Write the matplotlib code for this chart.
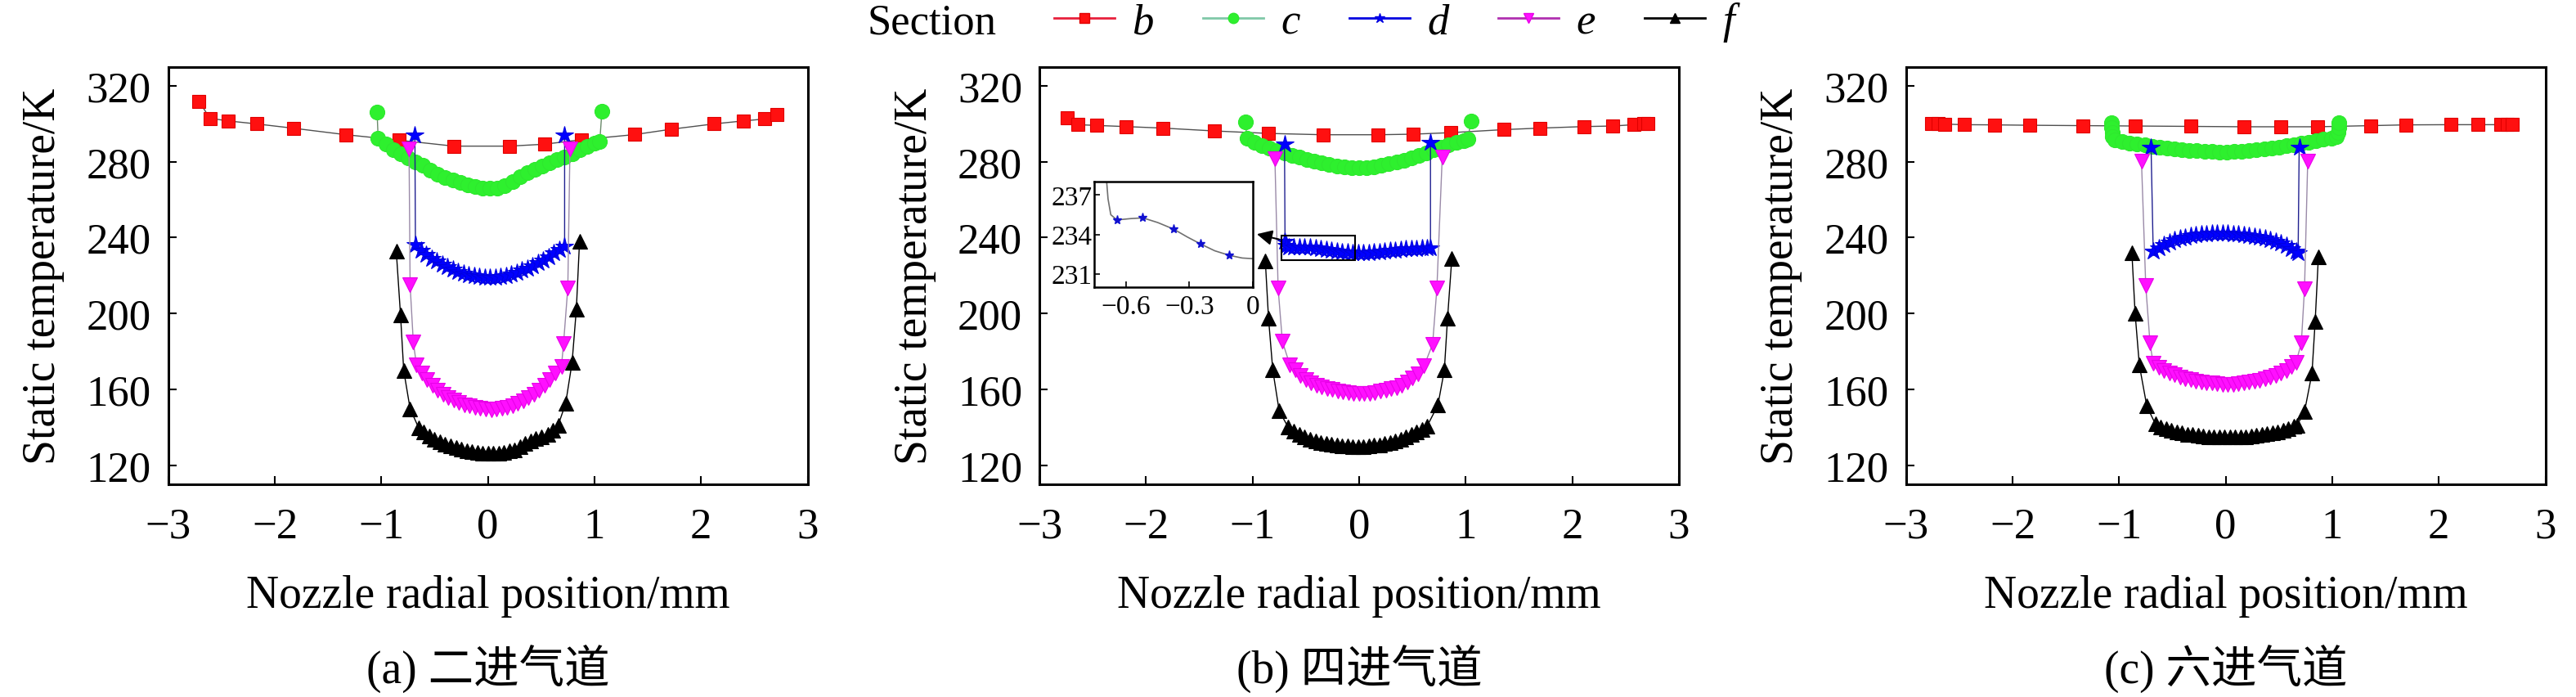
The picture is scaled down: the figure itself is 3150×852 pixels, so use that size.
import matplotlib
matplotlib.use("Agg")
import matplotlib.pyplot as plt
from matplotlib.lines import Line2D
from matplotlib.patches import Rectangle

plt.rcParams['font.family'] = ['Liberation Serif', 'DejaVu Serif']

# ---------------- panel (a) ----------------
b_x_a = [-2.71, -2.61, -2.44, -2.17, -1.82, -1.33, -0.83, -0.32, 0.20, 0.53, 0.88, 1.38, 1.72, 2.12, 2.40, 2.60, 2.71]
b_y_a = [311.8, 302.9, 301.5, 299.9, 297.6, 294.2, 291.3, 288.2, 288.2, 289.2, 291.6, 294.3, 297.1, 299.9, 301.5, 302.5, 305.0]

c_x_a = [-1.04, -1.03, -0.96, -0.89, -0.82, -0.75, -0.68, -0.61, -0.54, -0.47, -0.40, -0.33, -0.26, -0.19, -0.12, -0.05,
         0.02, 0.09, 0.16, 0.23, 0.30, 0.37, 0.44, 0.51, 0.58, 0.65, 0.72, 0.79, 0.86, 0.93, 1.00, 1.05, 1.07]
c_y_a = [306.1, 292.5, 289.5, 286.5, 284.0, 282.0, 280.0, 278.0, 275.5, 273.5, 271.8, 270.3, 269.0, 267.8, 266.8, 266.2,
         266.0, 266.2, 267.5, 269.5, 272.0, 274.3, 276.0, 277.8, 279.5, 281.0, 282.4, 284.3, 286.2, 288.0, 289.8, 290.8, 306.5]

d_x_a = [-0.685, -0.68, -0.63, -0.58, -0.53, -0.48, -0.43, -0.38, -0.33, -0.28, -0.23, -0.18, -0.13, -0.08, -0.03,
         0.02, 0.07, 0.12, 0.17, 0.22, 0.27, 0.32, 0.37, 0.42, 0.47, 0.52, 0.57, 0.62, 0.67, 0.72, 0.72]
d_y_a = [294.2, 236.5, 233.5, 231.0, 229.0, 227.5, 226.0, 224.5, 223.3, 222.2, 221.2, 220.4, 219.8, 219.3, 219.0,
         218.9, 219.0, 219.4, 220.0, 220.8, 221.7, 222.8, 224.0, 225.3, 226.8, 228.3, 230.0, 231.8, 233.7, 235.5, 294.2]

e_x_a = [-0.74, -0.73, -0.70, -0.67, -0.62, -0.57, -0.52, -0.47, -0.42, -0.37, -0.32, -0.27, -0.22, -0.17, -0.12, -0.07, -0.02,
         0.03, 0.08, 0.13, 0.18, 0.23, 0.28, 0.33, 0.38, 0.43, 0.48, 0.53, 0.58, 0.63, 0.69, 0.71, 0.75, 0.77]
e_y_a = [286.7, 215.0, 185.0, 172.8, 168.5, 165.0, 162.0, 159.5, 157.5, 155.8, 154.3, 153.0, 152.0, 151.2, 150.5, 150.0, 149.6,
         149.4, 149.6, 150.0, 150.6, 151.5, 152.6, 154.0, 155.6, 157.5, 159.7, 162.2, 165.2, 168.5, 172.0, 184.2, 213.6, 286.7]

f_x_a = [-0.86, -0.82, -0.79, -0.73, -0.65, -0.60, -0.55, -0.50, -0.45, -0.40, -0.35, -0.30, -0.25, -0.20, -0.15, -0.10, -0.05,
         0.00, 0.05, 0.10, 0.15, 0.20, 0.25, 0.30, 0.35, 0.40, 0.45, 0.50, 0.56, 0.61, 0.66, 0.73, 0.79, 0.83, 0.86]
f_y_a = [233.0, 199.3, 170.0, 149.8, 139.8, 137.5, 135.5, 133.8, 132.4, 131.2, 130.2, 129.3, 128.5, 127.8, 127.2, 126.8, 126.5,
         126.3, 126.3, 126.5, 126.9, 127.5, 128.3, 130.0, 131.5, 132.8, 134.0, 135.2, 136.2, 138.5, 141.2, 152.7, 174.2, 202.2, 238.0]

# ---------------- panel (b) ----------------
b_x_b = [-2.74, -2.64, -2.46, -2.19, -1.84, -1.36, -0.85, -0.34, 0.18, 0.51, 0.86, 1.36, 1.70, 2.11, 2.38, 2.58, 2.67, 2.71]
b_y_b = [303.1, 299.5, 299.1, 298.5, 297.7, 296.2, 294.9, 294.2, 294.2, 294.5, 295.3, 296.9, 297.7, 298.5, 298.8, 299.5, 300.0, 300.3]

c_x_b = [-1.07, -1.05, -0.98, -0.91, -0.84, -0.77, -0.70, -0.63, -0.56, -0.49, -0.42, -0.35, -0.28, -0.21, -0.14, -0.07,
         0.00, 0.07, 0.14, 0.21, 0.28, 0.35, 0.42, 0.49, 0.56, 0.63, 0.70, 0.77, 0.84, 0.91, 0.98, 1.02, 1.05]
c_y_b = [301.0, 292.3, 290.3, 288.5, 287.0, 285.9, 284.6, 283.4, 282.3, 281.2, 280.2, 279.3, 278.5, 277.8, 277.3, 276.9,
         276.7, 276.8, 277.3, 278.0, 278.9, 279.8, 280.8, 282.0, 283.3, 284.8, 286.3, 287.7, 289.0, 290.2, 291.2, 291.8, 301.4]

d_x_b = [-0.70, -0.695, -0.68, -0.66, -0.61, -0.56, -0.51, -0.46, -0.41, -0.36, -0.31, -0.26, -0.21, -0.16, -0.11, -0.06, -0.01,
         0.04, 0.09, 0.14, 0.19, 0.24, 0.29, 0.34, 0.39, 0.44, 0.49, 0.54, 0.59, 0.64, 0.67, 0.67]
d_y_b = [289.5, 238.0, 235.8, 235.1, 235.15, 235.2, 235.2, 234.9, 234.5, 234.1, 233.7, 233.3, 232.9, 232.6, 232.4, 232.2, 232.1,
         232.1, 232.2, 232.4, 232.6, 232.9, 233.2, 233.5, 233.8, 234.0, 234.2, 234.3, 234.4, 234.5, 234.6, 290.2]

e_x_b = [-0.79, -0.76, -0.72, -0.65, -0.60, -0.55, -0.50, -0.45, -0.40, -0.35, -0.30, -0.25, -0.20, -0.15, -0.10, -0.05,
         0.00, 0.05, 0.10, 0.15, 0.20, 0.25, 0.30, 0.35, 0.40, 0.45, 0.50, 0.55, 0.61, 0.69, 0.73, 0.78]
e_y_b = [281.6, 213.3, 185.3, 173.0, 170.5, 167.5, 165.2, 163.5, 162.2, 161.2, 160.5, 159.8, 159.2, 158.7, 158.3, 158.0,
         157.8, 157.8, 158.0, 158.4, 159.0, 159.7, 160.3, 161.0, 162.3, 164.0, 166.0, 168.2, 172.4, 183.9, 213.3, 282.3]

f_x_b = [-0.88, -0.85, -0.81, -0.75, -0.665, -0.61, -0.56, -0.51, -0.46, -0.41, -0.36, -0.31, -0.26, -0.21, -0.16, -0.11, -0.06, -0.01,
         0.04, 0.09, 0.14, 0.19, 0.24, 0.29, 0.34, 0.39, 0.44, 0.49, 0.54, 0.59, 0.64, 0.74, 0.80, 0.83, 0.87]
f_y_b = [227.7, 197.5, 170.2, 148.7, 140.0, 138.0, 136.3, 134.9, 133.8, 132.9, 132.2, 131.6, 131.1, 130.7, 130.4, 130.2, 130.0, 130.0,
         130.0, 130.2, 130.5, 130.9, 131.4, 132.0, 132.8, 133.8, 134.9, 136.2, 137.5, 139.0, 140.8, 151.8, 170.2, 197.5, 229.0]

# inset of panel (b): close-up of section d
ins_x = [-0.70, -0.686, -0.673, -0.644, -0.58, -0.521, -0.45, -0.375, -0.31, -0.246, -0.18, -0.11, -0.05, 0.0]
ins_y = [239.5, 236.7, 235.5, 235.1, 235.2, 235.26, 234.9, 234.4, 233.8, 233.26, 232.75, 232.4, 232.2, 232.15]
ins_stars = [3, 5, 7, 9, 11]

# ---------------- panel (c) ----------------
b_x_c = [-2.76, -2.70, -2.64, -2.45, -2.17, -1.84, -1.34, -0.85, -0.33, 0.17, 0.52, 0.86, 1.36, 1.69, 2.11, 2.37, 2.58, 2.64, 2.69]
b_y_c = [300.2, 300.0, 299.8, 299.5, 299.4, 299.2, 299.0, 298.8, 298.6, 298.4, 298.4, 298.4, 299.0, 299.4, 299.5, 299.5, 299.5, 299.5, 299.5]

c_x_c = [-1.07, -1.07, -1.065, -1.06, -1.04, -0.97, -0.90, -0.83, -0.76, -0.69, -0.62, -0.55, -0.48, -0.41, -0.34, -0.27, -0.20,
         -0.13, -0.06, 0.01, 0.08, 0.15, 0.22, 0.29, 0.36, 0.43, 0.50, 0.57, 0.64, 0.71, 0.78, 0.85, 0.92, 0.99, 1.04,
         1.055, 1.06, 1.06]
c_y_c = [300.5, 298.0, 295.5, 293.0, 291.5, 290.6, 289.8, 289.2, 288.7, 288.2, 287.7, 287.2, 286.8, 286.4, 286.0, 285.7, 285.5,
         285.3, 285.2, 285.2, 285.3, 285.5, 285.8, 286.2, 286.6, 287.1, 287.7, 288.3, 289.0, 289.7, 290.4, 291.1, 291.8, 292.5, 293.3,
         295.5, 298.0, 300.5]

d_x_c = [-0.70, -0.68, -0.63, -0.58, -0.53, -0.48, -0.43, -0.38, -0.33, -0.28, -0.23, -0.18, -0.13, -0.08, -0.03,
         0.02, 0.07, 0.12, 0.17, 0.22, 0.27, 0.32, 0.37, 0.42, 0.47, 0.52, 0.57, 0.62, 0.66, 0.68, 0.69]
d_y_c = [287.5, 232.7, 234.5, 236.2, 237.6, 238.7, 239.6, 240.3, 240.9, 241.4, 241.8, 242.1, 242.3, 242.4, 242.4,
         242.3, 242.1, 241.9, 241.6, 241.2, 240.8, 240.3, 239.8, 239.1, 238.2, 237.2, 235.9, 234.3, 232.7, 232.0, 287.5]

e_x_c = [-0.79, -0.75, -0.71, -0.68, -0.63, -0.58, -0.53, -0.48, -0.43, -0.38, -0.33, -0.28, -0.23, -0.18, -0.13, -0.08, -0.03,
         0.02, 0.07, 0.12, 0.17, 0.22, 0.27, 0.32, 0.37, 0.42, 0.47, 0.52, 0.57, 0.62, 0.66, 0.71, 0.74, 0.77]
e_y_c = [280.3, 214.7, 184.4, 173.6, 171.5, 170.0, 168.7, 167.6, 166.6, 165.8, 165.1, 164.5, 164.0, 163.6, 163.3, 163.0, 162.8,
         162.7, 162.8, 163.0, 163.3, 163.7, 164.2, 164.8, 165.5, 166.4, 167.4, 168.6, 170.0, 172.0, 174.2, 184.4, 213.2, 280.3]

f_x_c = [-0.88, -0.85, -0.81, -0.74, -0.66, -0.61, -0.56, -0.51, -0.46, -0.41, -0.36, -0.31, -0.26, -0.21, -0.16, -0.11, -0.06, -0.01,
         0.04, 0.09, 0.14, 0.19, 0.24, 0.29, 0.34, 0.39, 0.44, 0.49, 0.54, 0.59, 0.64, 0.67, 0.74, 0.81, 0.84, 0.87]
f_y_c = [232.0, 200.2, 172.8, 151.2, 141.8, 140.2, 139.2, 138.3, 137.6, 137.0, 136.5, 136.1, 135.7, 135.4, 135.1, 134.9, 134.8, 134.8,
         134.8, 134.9, 135.0, 135.2, 135.5, 135.8, 136.2, 136.7, 137.2, 137.8, 138.5, 139.3, 140.4, 141.1, 148.3, 168.5, 195.9, 229.8]

panel_captions = ['(a) 二进气道', '(b) 四进气道', '(c) 六进气道']
section_labels = ['b', 'c', 'd', 'e', 'f']
y_ticks = [120, 160, 200, 240, 280, 320]
x_ticks = [-3, -2, -1, 0, 1, 2, 3]

panels = [
    [(b_x_a, b_y_a), (c_x_a, c_y_a), (d_x_a, d_y_a), (e_x_a, e_y_a), (f_x_a, f_y_a)],
    [(b_x_b, b_y_b), (c_x_b, c_y_b), (d_x_b, d_y_b), (e_x_b, e_y_b), (f_x_b, f_y_b)],
    [(b_x_c, b_y_c), (c_x_c, c_y_c), (d_x_c, d_y_c), (e_x_c, e_y_c), (f_x_c, f_y_c)],
]

# marker styling per section
styles = [
    dict(marker='s', mfc='#ff1010', mec='#e00000', ms=12, lc='#505050', legc='#e8203c'),
    dict(marker='o', mfc='#2ef02e', mec='#2ee82e', ms=13, lc='#6a8a6a', legc='#80c8a8'),
    dict(marker='*', mfc='#0000ff', mec='#0000e0', ms=16, lc='#202090', legc='#0000e0'),
    dict(marker='v', mfc='#ff10ff', mec='#e800e8', ms=13, lc='#9a8aa8', legc='#b030b0'),
    dict(marker='^', mfc='black', mec='black', ms=13, lc='black', legc='black'),
]

FS = 38
FL = 40
fig = plt.figure(figsize=(31.5, 8.53), dpi=100)
lefts = [0.0653, 0.4035, 0.7399]

for k in range(3):
    ax = fig.add_axes([lefts[k], 0.3048, 0.2482, 0.5983])
    for (xs, ys), st in zip(panels[k], styles):
        ax.plot(xs, ys, color=st['lc'], lw=1.0, marker=st['marker'], ms=st['ms'],
                mfc=st['mfc'], mec=st['mec'], mew=0.8)
    ax.set_xlim(-3, 3)
    ax.set_ylim(110, 330)
    ax.set_xticks(x_ticks)
    ax.set_yticks(y_ticks)
    ax.set_xticklabels(['\u22123', '\u22122', '\u22121', '0', '1', '2', '3'])
    ax.tick_params(direction='in', length=7, width=1.5, labelsize=FS)
    ax.tick_params(axis='x', pad=20)
    ax.tick_params(axis='y', pad=15)
    for sp in ax.spines.values():
        sp.set_linewidth(2.2)
    ax.set_xlabel('Nozzle radial position/mm', fontsize=FL, va='center')
    ax.set_ylabel('Static temperature/K', fontsize=FL, va='center')
    ax.xaxis.set_label_coords(0.5, -0.267)
    ax.yaxis.set_label_coords(-0.195, 0.5)
    ax.text(0.5, -0.44, panel_captions[k], transform=ax.transAxes, ha='center', va='center',
            fontsize=FL, family=['Liberation Serif', 'Noto Sans CJK SC'])

    if k == 1:
        # zoom box and arrow pointing to the inset
        ax.add_patch(Rectangle((-0.73, 228.0), 0.69, 13.0, fill=False, ec='black', lw=1.5, zorder=5))
        ax.annotate('', xy=(-0.98, 242.1), xytext=(-0.73, 238.8),
                    arrowprops=dict(arrowstyle='-|>', color='black', lw=1.5, mutation_scale=28), zorder=6)
        ins = fig.add_axes([0.4249, 0.5877, 0.0614, 0.1505])
        ins.plot(ins_x, ins_y, color='#707070', lw=1.2, marker='*', ms=8,
                 mfc='#1010d0', mec='#1010d0', markevery=ins_stars)
        ins.set_xlim(-0.75, 0)
        ins.set_ylim(230, 238)
        ins.set_xticks([-0.6, -0.3, 0])
        ins.set_xticklabels(['\u22120.6', '\u22120.3', '0'])
        ins.set_yticks([231, 234, 237])
        ins.tick_params(direction='in', length=5, width=1.2, labelsize=24)
        ins.tick_params(axis='y', pad=2)
        ins.tick_params(axis='x', pad=6)
        for sp in ins.spines.values():
            sp.set_linewidth(1.8)

# legend across the top
fig.text(1061 / 3150, 1 - 28 / 853, 'Section', fontsize=FS, ha='left', va='center')
handles = [Line2D([], [], color=st['legc'], lw=2.0, marker=st['marker'], ms=9,
                  mfc=st['mfc'], mec=st['mec']) for st in styles]
fig.legend(handles, section_labels, loc='center left', bbox_to_anchor=(1289 / 3150, 1 - 28 / 853),
           ncol=5, frameon=False, borderpad=0, borderaxespad=0, handlelength=1.4,
           handletextpad=0.4, columnspacing=1.15,
           prop=dict(family='Liberation Serif', style='italic', size=FS))

fig.savefig('out.png', dpi=100)
